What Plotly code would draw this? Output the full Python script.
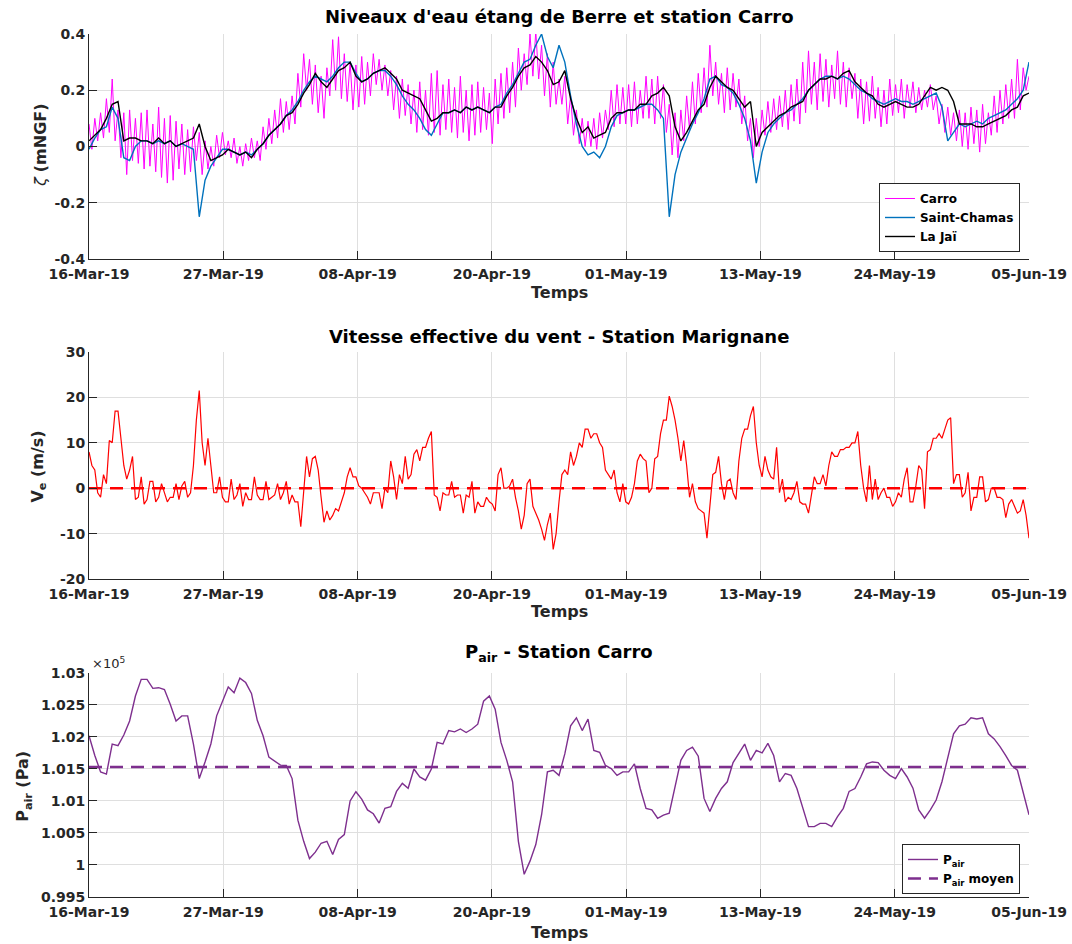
import pandas as pd
import plotly.graph_objects as go

# niveaux d'eau (mNGF) - Carro toutes les 6 h, Saint-Chamas / La Jai toutes les 12 h
carro = [
    0.08, -0.01, 0.10, 0.02,
    0.12, 0.03, 0.17, 0.05,
    0.24, 0.02, 0.13, -0.04,
    0.12, -0.10, 0.13, -0.05,
    0.10, -0.06, 0.12, -0.08,
    0.13, -0.07, 0.08, -0.09,
    0.14, -0.11, 0.10, -0.13,
    0.11, -0.12, 0.09, -0.08,
    0.08, -0.10, 0.06, -0.09,
    0.07, -0.05, 0.05, -0.10,
    0.02, -0.08, 0.00, -0.07,
    0.04, -0.04, 0.05, -0.03,
    0.02, -0.04, 0.03, -0.06,
    0.00, -0.07, 0.01, -0.05,
    0.03, -0.04, 0.02, -0.05,
    0.07, -0.01, 0.10, 0.01,
    0.13, 0.03, 0.17, 0.05,
    0.16, 0.06, 0.18, 0.08,
    0.26, 0.14, 0.33, 0.20,
    0.31, 0.15, 0.29, 0.12,
    0.25, 0.10, 0.28, 0.18,
    0.38, 0.20, 0.39, 0.17,
    0.33, 0.16, 0.30, 0.13,
    0.29, 0.14, 0.32, 0.15,
    0.30, 0.18, 0.33, 0.22,
    0.31, 0.20, 0.29, 0.18,
    0.27, 0.13, 0.25, 0.10,
    0.24, 0.11, 0.22, 0.08,
    0.20, 0.05, 0.23, 0.06,
    0.20, 0.04, 0.26, 0.05,
    0.27, 0.04, 0.22, 0.06,
    0.24, 0.05, 0.21, 0.03,
    0.25, 0.05, 0.20, 0.02,
    0.22, 0.04, 0.23, 0.05,
    0.21, 0.06, 0.19, 0.01,
    0.24, 0.08, 0.26, 0.10,
    0.28, 0.12, 0.30, 0.14,
    0.35, 0.20, 0.33, 0.22,
    0.40, 0.25, 0.41, 0.24,
    0.36, 0.18, 0.33, 0.14,
    0.30, 0.15, 0.24, 0.15,
    0.25, 0.08, 0.18, 0.04,
    0.13, 0.01, 0.10, 0.00,
    0.09, 0.00, 0.10, -0.01,
    0.12, 0.03, 0.13, 0.06,
    0.20, 0.07, 0.22, 0.08,
    0.21, 0.08, 0.22, 0.07,
    0.23, 0.08, 0.20, 0.10,
    0.25, 0.10, 0.24, 0.08,
    0.25, 0.10, 0.22, 0.05,
    0.15, -0.03, 0.12, -0.04,
    0.13, 0.02, 0.18, 0.06,
    0.23, 0.08, 0.26, 0.12,
    0.28, 0.14, 0.36, 0.18,
    0.30, 0.15, 0.26, 0.12,
    0.28, 0.13, 0.26, 0.14,
    0.24, 0.08, 0.18, 0.02,
    0.10, -0.04, 0.10, 0.00,
    0.13, 0.04, 0.16, 0.05,
    0.17, 0.06, 0.18, 0.07,
    0.20, 0.06, 0.22, 0.09,
    0.24, 0.08, 0.30, 0.12,
    0.34, 0.15, 0.30, 0.13,
    0.33, 0.16, 0.31, 0.14,
    0.29, 0.17, 0.34, 0.15,
    0.30, 0.14, 0.28, 0.17,
    0.26, 0.10, 0.24, 0.08,
    0.23, 0.09, 0.25, 0.10,
    0.21, 0.07, 0.20, 0.08,
    0.24, 0.11, 0.22, 0.12,
    0.24, 0.10, 0.22, 0.14,
    0.23, 0.12, 0.21, 0.13,
    0.20, 0.14, 0.22, 0.13,
    0.18, 0.08, 0.15, 0.05,
    0.14, 0.04, 0.12, 0.02,
    0.13, 0.00, 0.12, -0.01,
    0.14, 0.01, 0.13, -0.02,
    0.15, 0.01, 0.12, 0.04,
    0.18, 0.05, 0.20, 0.08,
    0.22, 0.10, 0.24, 0.10,
    0.31, 0.13, 0.28, 0.20,
    0.25,
]

saint_chamas = [
    -0.01, 0.03, 0.06, 0.07, 0.14, 0.10, -0.04, -0.05, 0.00, 0.02,
    0.02, 0.01, 0.02, 0.01, 0.02, 0.00, 0.01, 0.00, -0.01, -0.25,
    -0.12, -0.07, -0.04, -0.01, -0.01, -0.02, -0.03, -0.02, -0.03, -0.01,
    0.01, 0.04, 0.06, 0.08, 0.11, 0.13, 0.16, 0.20, 0.23, 0.25,
    0.24, 0.23, 0.25, 0.28, 0.30, 0.30, 0.26, 0.23, 0.24, 0.26,
    0.27, 0.27, 0.25, 0.22, 0.18, 0.15, 0.13, 0.10, 0.06, 0.04,
    0.08, 0.12, 0.12, 0.13, 0.12, 0.14, 0.13, 0.14, 0.13, 0.12,
    0.14, 0.15, 0.19, 0.22, 0.26, 0.30, 0.31, 0.36, 0.40, 0.32,
    0.28, 0.36, 0.30, 0.18, 0.08, 0.00, -0.03, -0.02, -0.04, 0.00,
    0.07, 0.11, 0.12, 0.13, 0.13, 0.14, 0.15, 0.15, 0.13, 0.10,
    -0.25, -0.10, -0.02, 0.03, 0.08, 0.12, 0.17, 0.24, 0.25, 0.22,
    0.21, 0.19, 0.15, 0.10, 0.02, -0.13, -0.02, 0.05, 0.08, 0.10,
    0.12, 0.13, 0.15, 0.17, 0.20, 0.22, 0.24, 0.25, 0.25, 0.24,
    0.25, 0.24, 0.22, 0.20, 0.19, 0.17, 0.16, 0.15, 0.16, 0.17,
    0.16, 0.16, 0.15, 0.16, 0.17, 0.18, 0.19, 0.14, 0.02, 0.05,
    0.08, 0.07, 0.08, 0.09, 0.08, 0.10, 0.11, 0.12, 0.13, 0.15,
    0.17, 0.20, 0.30,
]

la_jai = [
    0.02, 0.04, 0.06, 0.10, 0.15, 0.16, 0.02, 0.03, 0.03, 0.02,
    0.02, 0.01, 0.03, 0.01, 0.02, 0.00, 0.01, 0.02, 0.03, 0.08,
    0.00, -0.05, -0.04, -0.03, -0.01, -0.02, -0.03, -0.02, -0.04, -0.01,
    0.01, 0.04, 0.06, 0.08, 0.11, 0.12, 0.15, 0.19, 0.22, 0.26,
    0.23, 0.21, 0.24, 0.27, 0.28, 0.30, 0.25, 0.23, 0.24, 0.26,
    0.27, 0.28, 0.26, 0.24, 0.20, 0.19, 0.18, 0.17, 0.13, 0.09,
    0.10, 0.12, 0.12, 0.13, 0.12, 0.14, 0.13, 0.14, 0.13, 0.12,
    0.14, 0.14, 0.18, 0.21, 0.25, 0.28, 0.29, 0.32, 0.30, 0.27,
    0.22, 0.23, 0.27, 0.17, 0.10, 0.05, 0.07, 0.03, 0.04, 0.05,
    0.10, 0.12, 0.12, 0.13, 0.13, 0.15, 0.15, 0.18, 0.19, 0.21,
    0.18, 0.07, 0.02, 0.05, 0.09, 0.13, 0.15, 0.21, 0.25, 0.23,
    0.21, 0.20, 0.17, 0.14, 0.16, 0.00, 0.05, 0.07, 0.09, 0.11,
    0.12, 0.14, 0.15, 0.16, 0.20, 0.22, 0.24, 0.24, 0.25, 0.24,
    0.26, 0.27, 0.23, 0.21, 0.19, 0.18, 0.15, 0.14, 0.15, 0.16,
    0.15, 0.14, 0.14, 0.15, 0.18, 0.21, 0.20, 0.21, 0.20, 0.16,
    0.08, 0.08, 0.08, 0.07, 0.07, 0.08, 0.09, 0.10, 0.11, 0.13,
    0.14, 0.18, 0.19,
]

# vitesse effective du vent (m/s), toutes les 6 h
vent = [
    8, 5, 4, -1,
    -2, 3, 1, 10.5,
    10, 17, 17, 11,
    5, 2, 4, 7,
    -2.5, -2, 2.5, -3.5,
    -2.5, 1.5, 1.5, -3,
    -2, 1, -1, -3,
    -2, -2, 1, -2.5,
    0.5, 1.5, -2, -1,
    5, 15, 21.5, 10,
    5, 11, 5, -1,
    -1, 2.5, -2, -3,
    -3, 2, -2.5, -1.5,
    1, -4, -1, -2.5,
    -2.5, 2.5, -1.5, -2.5,
    -2.5, 1.5, -2.5, -2,
    -1.5, 1, -2.5, -1,
    1.5, -3.5, -1.5, -3,
    -3, -8.5, 0, 7,
    2.5, 6.5, 7, 4,
    -2, -7.5, -5, -7,
    -6, -4.5, -5, -3,
    -1, 2.5, 4.5, 2.5,
    2.5, 0.5, 0, -1,
    -2, -3.5, -1, -1,
    -1, -4.5, 0, -1,
    6, 2.5, -2.5, 3,
    1, 7, 2, 3,
    7.5, 8.5, 6, 9,
    9, 11, 12.5, -1.5,
    -2, -5, -1, -1.5,
    -1.5, 1.5, -2, -1.5,
    -1.5, -5.5, -1.5, -2,
    1.5, -5.5, -3, -4,
    -4, -2, -3, -3.5,
    -5, 3, 4.5, 0,
    0, 0.5, 2, -2,
    -5, -9, -6, 1,
    2, -4, -5.5, -7,
    -9, -11.5, -8, -5.5,
    -13.5, -10, -3, 3,
    4, 3, 8, 5,
    7, 10, 9, 13,
    13, 11, 12, 12,
    10, 9, 4, 3,
    2, 4, -1, -3,
    1, -3, -3.5, -2,
    1, 6, 7.5, 6.5,
    6, -1, 0, 6.5,
    7, 12, 15, 15,
    20.3, 18, 15, 11,
    6, 10.5, 5, -2,
    1, -3, -4.5, -5,
    -5.5, -11, -4, 3,
    3.5, 7, 1, -2.5,
    1.5, 2, -1, -2.5,
    6, 11, 13, 13,
    16, 18, 10, 5,
    2.5, 7, 4, 2.5,
    2, 9, -1, 2,
    -3, -2, -2.5, -1,
    1.5, -3, -3.5, -3.5,
    -5.5, -1.5, 2.5, 1,
    1, 3, 0.5, 5,
    8, 7, 7, 8.5,
    8.5, 9, 9, 10,
    10, 12.5, 5, 0,
    -3, 5, -2.5, 2,
    -2.5, -1, 0, -2,
    -2, -4, -3, -1,
    -2, 2, 4.5, -3,
    -3, 0.5, 5, 4,
    -4.5, 8, 8.5, 11,
    11, 12, 11, 13,
    15, 15.5, 1, 3,
    3, -2, -1, 3.5,
    -5, -2, -2, 2.5,
    2.5, -3, -2.5, 0,
    0, -2, -2, -2.5,
    -6.5, -3.5, -2.5, -4,
    -5.5, -5, -2.5, -6,
    -11,
]
vent_moyen = 0.0

# pression atmospherique (Pa), toutes les 12 h
p_air = [
    102020, 101710, 101455, 101420, 101890, 101865, 102030, 102250, 102640, 102900,
    102900, 102760, 102770, 102740, 102510, 102250, 102330, 102330, 101890, 101350,
    101610, 101890, 102330, 102560, 102780, 102690, 102920, 102850, 102680, 102260,
    102020, 101685, 101620, 101560, 101555, 101350, 100700, 100370, 100100, 100200,
    100340, 100370, 100165, 100400, 100475, 101000, 101145, 101030, 100860, 100800,
    100655, 100885, 100910, 101150, 101275, 101200, 101500, 101375, 101325, 101500,
    101915, 101890, 102100, 102080, 102125, 102070, 102125, 102200, 102560, 102640,
    102435, 101915, 101635, 101300, 100370, 99855, 100060, 100320, 100785, 101455,
    101480, 101400, 101735, 102175, 102300, 102100, 102280, 101790, 101760, 101555,
    101505, 101400, 101455, 101455, 101580, 101195, 100885, 100860, 100730, 100780,
    100810, 101250, 101635, 101790, 101840, 101700, 101040, 100835, 101040, 101195,
    101300, 101600, 101735, 101890, 101635, 101790, 101750, 101900, 101710, 101300,
    101430, 101400, 101195, 100900, 100600, 100600, 100650, 100650, 100600, 100755,
    100885, 101150, 101195, 101375, 101580, 101610, 101600, 101480, 101400, 101350,
    101505, 101375, 101200, 100860, 100730, 100860, 101015, 101300, 101660, 102050,
    102175, 102200, 102300, 102280, 102300, 102050, 101970, 101850, 101710, 101555,
    101480, 101145, 100785,
]
p_air_moyen = 101530

date_labels = ["16-Mar-19", "27-Mar-19", "08-Apr-19", "20-Apr-19",
               "01-May-19", "13-May-19", "24-May-19", "05-Jun-19"]

t0 = pd.Timestamp("2019-03-16")
t_end = pd.Timestamp("2019-06-05")
t6 = pd.date_range(t0, periods=len(carro), freq="6h")
t12 = pd.date_range(t0, periods=len(la_jai), freq="12h")
t6v = pd.date_range(t0, periods=len(vent), freq="6h")
t12p = pd.date_range(t0, periods=len(p_air), freq="12h")
span = (t_end - t0) / (len(date_labels) - 1)
tick_dates = [t0 + span * k for k in range(len(date_labels))]

FONT = "DejaVu Sans"
AX = "#262626"
GRID = "#dfdfdf"

fig = go.Figure()
fig.add_trace(go.Scatter(x=t6, y=carro, mode="lines", name="Carro",
                         line=dict(color="#FF00FF", width=1), xaxis="x", yaxis="y", legend="legend"))
fig.add_trace(go.Scatter(x=t12, y=saint_chamas, mode="lines", name="Saint-Chamas",
                         line=dict(color="#0072BD", width=1.4), xaxis="x", yaxis="y", legend="legend"))
fig.add_trace(go.Scatter(x=t12, y=la_jai, mode="lines", name="La Jaï",
                         line=dict(color="black", width=1.4), xaxis="x", yaxis="y", legend="legend"))

fig.add_trace(go.Scatter(x=t6v, y=vent, mode="lines", showlegend=False,
                         line=dict(color="#FF0000", width=1.2), xaxis="x2", yaxis="y2"))
fig.add_trace(go.Scatter(x=[t0, t_end], y=[vent_moyen, vent_moyen], mode="lines", showlegend=False,
                         line=dict(color="#FF0000", width=2.5, dash="13px,8px"), xaxis="x2", yaxis="y2"))

fig.add_trace(go.Scatter(x=t12p, y=p_air, mode="lines", name="P<sub>air</sub>",
                         line=dict(color="#7E2F8E", width=1.4), xaxis="x3", yaxis="y3", legend="legend2"))
fig.add_trace(go.Scatter(x=[t0, t_end], y=[p_air_moyen, p_air_moyen], mode="lines",
                         name="P<sub>air</sub> moyen",
                         line=dict(color="#7E2F8E", width=2.5, dash="13px,8px"),
                         xaxis="x3", yaxis="y3", legend="legend2"))

tickfont = dict(family=FONT, size=14, color=AX, weight="bold")


def xaxis_style(anchor):
    return dict(type="date", range=[t0, t_end], tickvals=tick_dates, ticktext=date_labels,
                anchor=anchor, domain=[0, 1], ticks="inside", ticklen=8, tickcolor=AX,
                showline=True, linecolor=AX, linewidth=1, showgrid=True, gridcolor=GRID,
                zeroline=False, tickfont=tickfont, ticklabelstandoff=2, automargin=False,
                ticklabeloverflow="allow")


def yaxis_style(domain, anchor, rng, vals, text):
    return dict(domain=domain, anchor=anchor, range=rng, tickvals=vals, ticktext=text,
                ticks="inside", ticklen=8, tickcolor=AX, showline=True, linecolor=AX,
                linewidth=1, showgrid=True, gridcolor=GRID, zeroline=False, tickfont=tickfont,
                automargin=False)


fig.update_layout(
    width=1072, height=944,
    margin=dict(l=89, r=43, t=34, b=47),
    paper_bgcolor="white", plot_bgcolor="white",
    xaxis=xaxis_style("y"),
    xaxis2=xaxis_style("y2"),
    xaxis3=xaxis_style("y3"),
    yaxis=yaxis_style([0.7393, 1], "x", [-0.4, 0.4], [-0.4, -0.2, 0, 0.2, 0.4],
                      ["-0.4", "-0.2", "0", "0.2", "0.4"]),
    yaxis2=yaxis_style([0.3685, 0.6315], "x2", [-20, 30], [-20, -10, 0, 10, 20, 30],
                       ["-20", "-10", "0", "10", "20", "30"]),
    yaxis3=yaxis_style([0, 0.2596], "x3", [99500, 103000],
                       [99500, 100000, 100500, 101000, 101500, 102000, 102500, 103000],
                       ["0.995", "1", "1.005", "1.01", "1.015", "1.02", "1.025", "1.03"]),
    legend=dict(x=0.9904, xanchor="right", y=0.7474, yanchor="bottom", bgcolor="white",
                bordercolor=AX, borderwidth=1, tracegroupgap=0,
                font=dict(family=FONT, size=12, color="black", weight="bold")),
    legend2=dict(x=0.9904, xanchor="right", y=0.0035, yanchor="bottom", bgcolor="white",
                 bordercolor=AX, borderwidth=1, tracegroupgap=0,
                 font=dict(family=FONT, size=12, color="black", weight="bold")),
)

titles = [
    ("Niveaux d'eau étang de Berre et station Carro", 1.0197),
    ("Vitesse effective du vent - Station Marignane", 0.6489),
    ("P<sub>air</sub> - Station Carro", 0.283),
]
for txt, y in titles:
    fig.add_annotation(text=txt, x=0.5, y=y, xref="paper", yref="paper", showarrow=False,
                       xanchor="center", yanchor="middle",
                       font=dict(family=FONT, size=18, color="black", weight="bold"))

for y in [0.701, 0.3314, -0.0406]:
    fig.add_annotation(text="Temps", x=0.5, y=y, xref="paper", yref="paper", showarrow=False,
                       xanchor="center", yanchor="middle",
                       font=dict(family=FONT, size=16, color=AX, weight="bold"))

ylabels = [
    ("<i>ζ</i> <b>(mNGF)</b>", -0.051, 0.8714),
    ("<b>V<sub>e</sub> (m/s)</b>", -0.0536, 0.4983),
    ("<b>P<sub>air</sub> (Pa)</b>", -0.069, 0.1278),
]
for txt, x, y in ylabels:
    fig.add_annotation(text=txt, x=x, y=y, xref="paper", yref="paper", showarrow=False,
                       xanchor="center", yanchor="middle", textangle=-90,
                       font=dict(family=FONT, size=16, color=AX))

fig.add_annotation(text="×10<sup>5</sup>", x=0.001, y=0.2712, xref="paper", yref="paper",
                   showarrow=False, xanchor="left", yanchor="middle",
                   font=dict(family=FONT, size=13, color=AX))

fig.write_html("out.html", config={"displayModeBar": False},
               post_script="document.body.style.margin='0px';")
